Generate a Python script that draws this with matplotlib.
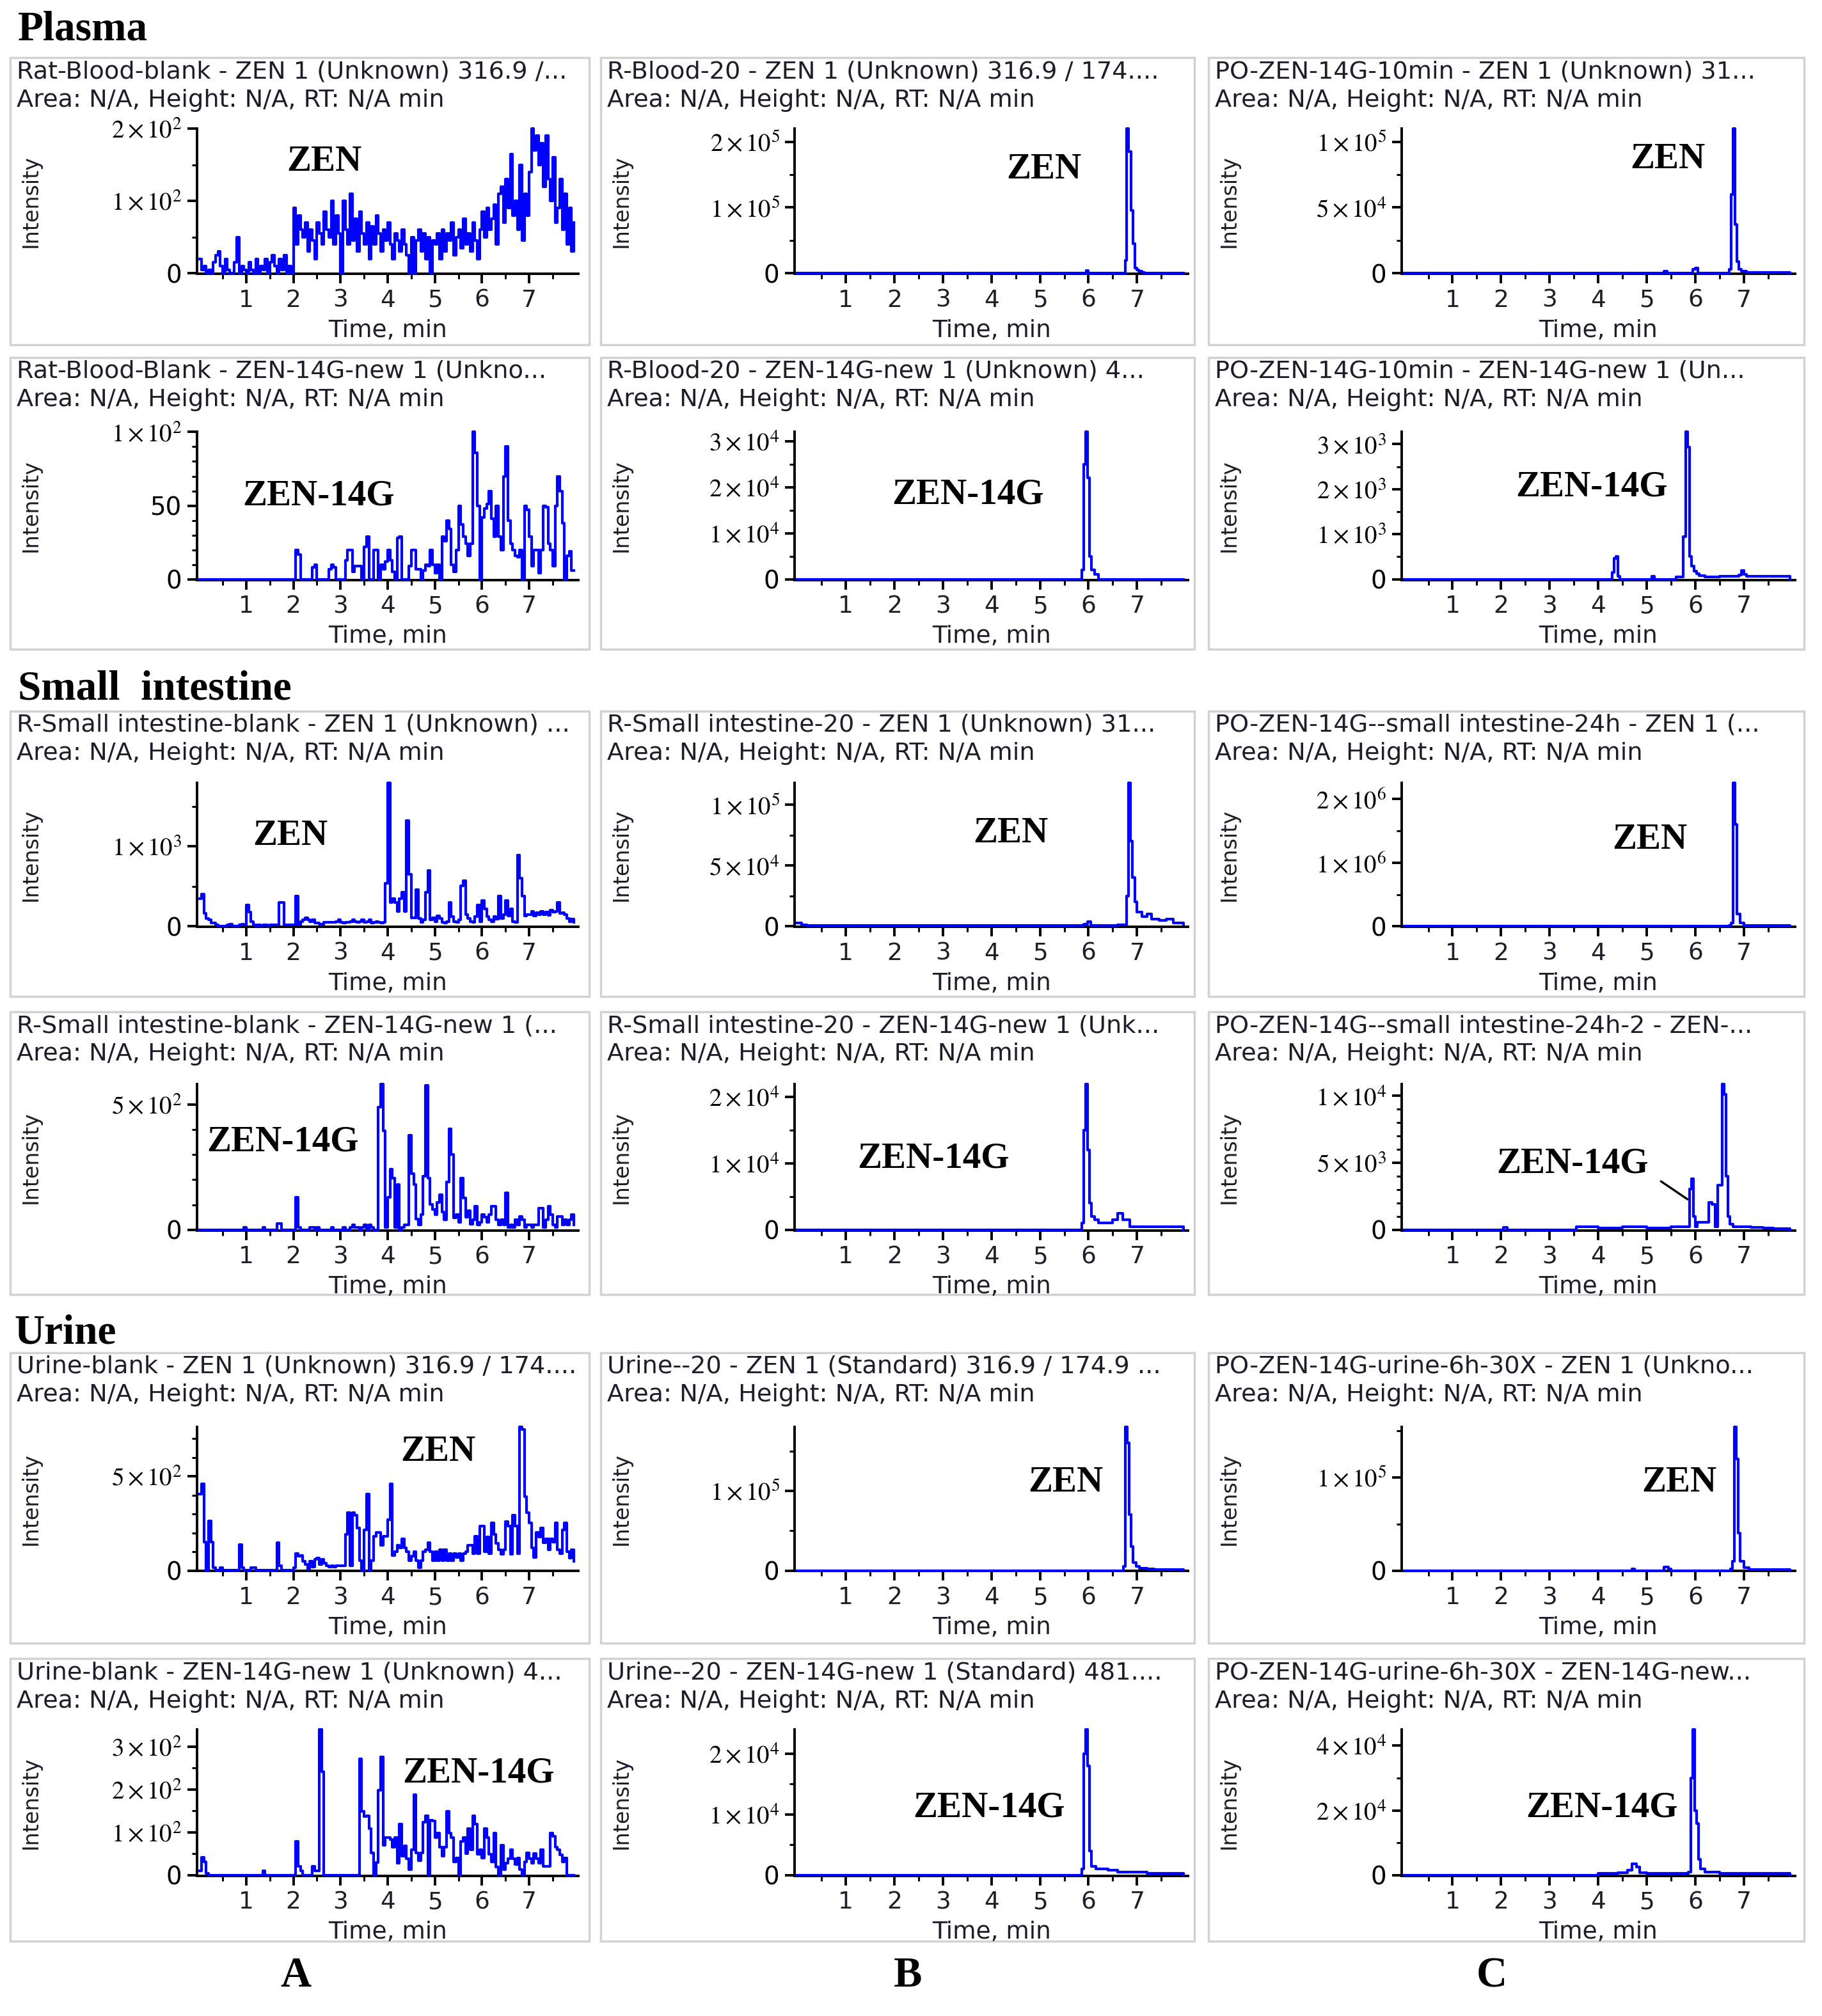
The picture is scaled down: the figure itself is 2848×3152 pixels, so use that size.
import numpy as np
import matplotlib.pyplot as plt
from matplotlib.patches import Rectangle
from matplotlib.ticker import FixedLocator, MultipleLocator

plt.rcParams['mathtext.fontset'] = 'stix'

# blank traces, one reading every 0.05 min starting at 0.00 min
step = 0.05

a1_plasma_zen = [20, 5, 10, 0, 5, 0, 15, 25, 30, 10, 0, 20, 5, 0, 0, 15, 50, 0, 10, 5,
                 0, 15, 5, 0, 20, 0, 10, 5, 20, 0, 15, 25, 10, 0, 20, 5, 25, 0, 10, 0,
                 90, 40, 80, 60, 50, 70, 30, 60, 45, 20, 70, 55, 40, 85, 60, 50, 100, 40, 80, 55,
                 0, 100, 60, 40, 110, 45, 75, 30, 85, 55, 40, 70, 20, 65, 40, 80, 55, 30, 60, 45,
                 70, 40, 20, 55, 45, 30, 60, 40, 25, 0, 50, 0, 45, 60, 30, 55, 20, 50, 0, 45,
                 40, 55, 20, 60, 30, 55, 45, 70, 25, 50, 60, 35, 75, 40, 55, 30, 70, 45, 20, 60,
                 85, 50, 90, 60, 75, 95, 40, 110, 120, 70, 130, 90, 165, 80, 100, 60, 150, 45, 110, 80,
                 140, 200, 170, 190, 150, 180, 120, 190, 130, 100, 160, 70, 90, 130, 60, 110, 40, 90, 30, 70]

a2_plasma_14g = [0] * 40 + [
                 0, 20, 17, 0, 0, 0, 0, 0, 8, 10, 0, 0, 0, 0, 0, 7, 10, 8, 0, 0,
                 0, 0, 13, 20, 20, 5, 9, 9, 9, 0, 22, 29, 0, 0, 20, 20, 0, 10, 7, 12,
                 20, 13, 5, 0, 28, 29, 0, 0, 0, 9, 20, 20, 7, 7, 0, 6, 10, 9, 20, 10,
                 4, 10, 0, 29, 26, 40, 34, 10, 5, 20, 50, 37, 29, 24, 16, 24, 100, 86, 50, 0,
                 42, 48, 51, 60, 41, 29, 50, 29, 20, 70, 90, 40, 24, 20, 16, 15, 20, 0, 50, 47,
                 29, 9, 20, 20, 4, 20, 50, 49, 24, 20, 9, 50, 70, 60, 38, 0, 16, 19, 6, 6]

a3_intestine_zen = [350, 400, 160, 100, 80, 40, 40, 20, 0, 0, 0, 0, 20, 30, 0, 0, 0, 20, 30, 20,
                    270, 180, 60, 20, 0, 20, 0, 20, 20, 0, 20, 20, 20, 20, 300, 300, 20, 20, 20, 20,
                    20, 380, 20, 60, 80, 110, 80, 60, 80, 40, 40, 30, 20, 50, 50, 50, 50, 50, 60, 80,
                    50, 40, 50, 50, 60, 80, 60, 50, 60, 80, 50, 60, 80, 40, 50, 60, 50, 40, 50, 540,
                    1790, 300, 350, 300, 190, 350, 430, 190, 1320, 650, 110, 110, 460, 100, 50, 80, 430, 700, 80, 110,
                    60, 130, 100, 50, 40, 60, 300, 120, 60, 50, 80, 510, 570, 150, 100, 60, 50, 120, 270, 60,
                    320, 220, 120, 80, 60, 120, 90, 380, 100, 150, 320, 130, 220, 60, 50, 890, 600, 380, 130, 150,
                    150, 190, 130, 170, 150, 190, 150, 180, 140, 200, 180, 190, 300, 160, 170, 150, 100, 60, 90, 50]

a4_intestine_14g = [0, 0, 0, 0, 0, 0, 0, 0, 0, 0, 0, 0, 0, 0, 0, 0, 0, 0, 0, 9,
                    0, 0, 0, 0, 0, 0, 0, 9, 0, 0, 0, 0, 0, 26, 26, 0, 0, 0, 0, 0,
                    0, 130, 9, 0, 0, 0, 0, 10, 10, 0, 10, 0, 0, 0, 0, 0, 10, 0, 0, 0,
                    0, 10, 0, 0, 10, 20, 10, 10, 0, 10, 20, 0, 20, 10, 0, 0, 490, 582, 394, 10,
                    130, 243, 207, 10, 180, 0, 10, 20, 20, 376, 225, 180, 44, 20, 62, 214, 575, 207, 101, 80,
                    60, 110, 141, 70, 40, 190, 403, 300, 48, 62, 30, 207, 128, 50, 75, 22, 40, 93, 20, 31,
                    62, 50, 31, 62, 94, 94, 40, 20, 40, 20, 147, 10, 20, 10, 40, 20, 53, 40, 10, 20,
                    20, 10, 20, 20, 86, 86, 10, 40, 94, 60, 20, 10, 53, 53, 20, 40, 20, 40, 62, 20]

a5_urine_zen = [404, 460, 150, 0, 263, 150, 15, 3, 3, 15, 3, 3, 3, 3, 3, 3, 3, 139, 15, 3,
                3, 3, 15, 15, 3, 3, 3, 3, 3, 3, 3, 3, 3, 148, 26, 3, 3, 3, 3, 3,
                15, 90, 77, 79, 48, 32, 9, 48, 20, 58, 68, 32, 58, 40, 26, 20, 26, 20, 26, 26,
                26, 26, 192, 306, 26, 306, 295, 226, 54, 0, 214, 404, 0, 54, 180, 203, 203, 133, 180, 180,
                271, 458, 79, 101, 135, 122, 167, 122, 101, 54, 77, 101, 54, 15, 54, 101, 110, 147, 99, 54,
                99, 54, 110, 54, 110, 54, 90, 54, 90, 70, 90, 54, 90, 100, 133, 133, 90, 180, 90, 235,
                235, 100, 178, 90, 252, 192, 144, 110, 85, 110, 261, 235, 85, 295, 235, 90, 760, 748, 393, 308,
                252, 122, 71, 201, 178, 226, 147, 167, 110, 167, 150, 252, 110, 90, 214, 252, 99, 65, 110, 50]

a6_urine_14g = [11, 41, 31, 5, 0, 0, 0, 0, 0, 0, 0, 0, 0, 0, 0, 0, 0, 0, 0, 0,
                0, 0, 0, 0, 0, 0, 0, 11, 0, 0, 0, 0, 0, 0, 0, 0, 0, 0, 0, 0,
                0, 79, 21, 11, 0, 0, 0, 0, 21, 11, 11, 340, 241, 0, 0, 0, 0, 0, 0, 0,
                0, 0, 0, 0, 0, 0, 0, 0, 271, 149, 137, 138, 109, 52, 0, 30, 198, 276, 70, 88,
                88, 83, 65, 88, 28, 119, 44, 69, 39, 13, 60, 188, 52, 34, 52, 123, 138, 0, 128, 126,
                88, 98, 65, 44, 65, 149, 98, 88, 31, 40, 0, 79, 88, 50, 109, 60, 138, 119, 49, 60,
                40, 109, 88, 49, 31, 99, 20, 0, 70, 13, 28, 39, 60, 39, 25, 40, 13, 0, 31, 52,
                39, 28, 51, 39, 28, 60, 21, 21, 21, 99, 91, 65, 60, 47, 31, 40, 0, 0, 0, 0]

# dosed samples: (time, intensity) pairs, value held until next time
b1_t = [0, 5.96, 6.0, 6.76, 6.79, 6.83, 6.87, 6.91, 6.95, 6.99, 7.03, 7.1, 7.15, 7.95]
b1_y = [0, 4e3, 0, 2e4, 2.2e5, 1.85e5, 9.6e4, 4.5e4, 8e3, 5e3, 3e3, 1e3, 0, 0]
b2_t = [0, 5.86, 5.9, 5.94, 5.98, 6.02, 6.06, 6.12, 6.2, 7.95]
b2_y = [0, 2e3, 2.5e4, 3.2e4, 2.2e4, 5e3, 2e3, 1e3, 0, 0]
b3_t = [0, 0.1, 0.2, 5.9, 5.98, 6.05, 6.6, 6.78, 6.82, 6.86, 6.9, 6.95, 7.0, 7.1, 7.2, 7.3, 7.45, 7.6, 7.75, 7.95]
b3_y = [3e3, 1.5e3, 1e3, 2e3, 4e3, 1e3, 1.5e3, 2.5e4, 1.18e5, 7e4, 4e4, 2e4, 1.2e4, 8e3, 1e4, 6e3, 5e3, 6e3, 3e3, 2e3]
b4_t = [0, 5.86, 5.9, 5.94, 5.98, 6.02, 6.06, 6.12, 6.2, 6.5, 6.6, 6.7, 6.85, 7.95]
b4_y = [0, 1e3, 1.5e4, 2.2e4, 1.2e4, 4e3, 2e3, 1.5e3, 1e3, 1.5e3, 2.5e3, 1.5e3, 500, 0]
b5_t = [0, 6.72, 6.76, 6.8, 6.84, 6.88, 6.92, 6.98, 7.05, 7.2, 7.35, 7.95]
b5_y = [0, 5e3, 1.8e5, 1.6e5, 7e4, 3e4, 1e4, 5e3, 3e3, 2e3, 1e3, 0]
b6_t = [0, 5.86, 5.9, 5.94, 5.98, 6.02, 6.06, 6.15, 6.4, 6.6, 6.8, 7.2, 7.95]
b6_y = [0, 1e3, 2e4, 2.4e4, 1.8e4, 4e3, 1.5e3, 1e3, 800, 500, 500, 300, 0]

c1_t = [0, 5.35, 5.42, 5.95, 6.0, 6.05, 6.7, 6.74, 6.78, 6.82, 6.86, 6.9, 6.95, 7.05, 7.95]
c1_y = [0, 1.5e3, 0, 3e3, 4e3, 0, 3e3, 6e4, 1.1e5, 3.7e4, 9e3, 3e3, 1.5e3, 500, 0]
c2_t = [0, 4.28, 4.32, 4.36, 4.4, 4.45, 5.1, 5.15, 5.6, 5.75, 5.8, 5.84, 5.88, 5.92, 5.97,
        6.02, 6.08, 6.2, 6.5, 6.9, 6.95, 7.0, 7.05, 7.4, 7.95]
c2_y = [0, 150, 460, 500, 60, 0, 60, 0, 50, 940, 3270, 2940, 500, 300, 180,
        130, 80, 50, 60, 90, 200, 110, 60, 60, 0]
c3_t = [0, 6.7, 6.74, 6.78, 6.82, 6.86, 6.92, 7.0, 7.95]
c3_y = [0, 1e4, 5e4, 2.25e6, 1.6e6, 2e5, 5e4, 1e4, 0]
c4_t = [0, 2.05, 2.12, 3.55, 4.0, 4.5, 5.0, 5.5, 5.88, 5.92, 5.96, 6.0, 6.04, 6.28, 6.34, 6.4,
        6.46, 6.55, 6.59, 6.63, 6.67, 6.71, 6.78, 6.95, 7.15, 7.4, 7.6, 7.95]
c4_y = [0, 200, 0, 250, 150, 250, 150, 250, 3050, 3800, 980, 240, 570, 2070, 1900, 240,
        3340, 10900, 10100, 4000, 980, 400, 250, 250, 200, 150, 100, 0]
c5_t = [0, 4.7, 4.75, 5.35, 5.45, 5.5, 6.72, 6.76, 6.8, 6.84, 6.88, 6.92, 7.0, 7.1, 7.95]
c5_y = [0, 2e3, 0, 4e3, 2e3, 0, 2e3, 1e4, 1.54e5, 1.2e5, 4e4, 1e4, 3e3, 1e3, 0]
c6_t = [0, 4.0, 4.4, 4.6, 4.7, 4.78, 4.85, 5.0, 5.5, 5.85, 5.9, 5.94, 5.98, 6.02, 6.06, 6.1, 6.2, 6.5, 7.95]
c6_y = [0, 500, 800, 1500, 3500, 2500, 800, 500, 500, 1000, 3e4, 4.5e4, 2e4, 1.6e4, 5e3, 2e3, 1e3, 500, 0]

area_line = 'Area: N/A, Height: N/A, RT: N/A min'

# (column, row, header, compound, label x, label y, trace, y major ticks, y minor step)
panels = [
    ('A', 0, 'Rat-Blood-blank - ZEN 1 (Unknown) 316.9 /...', 'ZEN', 252, 126, a1_plasma_zen, [0, 100, 200], 50),
    ('B', 0, 'R-Blood-20 - ZEN 1 (Unknown) 316.9 / 174....', 'ZEN', 812, 132, (b1_t, b1_y), [0, 1e5, 2e5], 5e4),
    ('C', 0, 'PO-ZEN-14G-10min - ZEN 1 (Unknown) 31...', 'ZEN', 1297, 124, (c1_t, c1_y), [0, 5e4, 1e5], 2.5e4),
    ('A', 1, 'Rat-Blood-Blank - ZEN-14G-new 1 (Unkno...', 'ZEN-14G', 248, 386, a2_plasma_14g, [0, 50, 100], 10),
    ('B', 1, 'R-Blood-20 - ZEN-14G-new 1 (Unknown) 4...', 'ZEN-14G', 753, 385, (b2_t, b2_y), [0, 1e4, 2e4, 3e4], 5e3),
    ('C', 1, 'PO-ZEN-14G-10min - ZEN-14G-new 1 (Un...', 'ZEN-14G', 1238, 379, (c2_t, c2_y), [0, 1e3, 2e3, 3e3], 500),
    ('A', 2, 'R-Small intestine-blank - ZEN 1 (Unknown) ...', 'ZEN', 226, 650, a3_intestine_zen, [0, 1e3], 500),
    ('B', 2, 'R-Small intestine-20 - ZEN 1 (Unknown) 31...', 'ZEN', 786, 648, (b3_t, b3_y), [0, 5e4, 1e5], 2.5e4),
    ('C', 2, 'PO-ZEN-14G--small intestine-24h - ZEN 1 (...', 'ZEN', 1283, 653, (c3_t, c3_y), [0, 1e6, 2e6], 5e5),
    ('A', 3, 'R-Small intestine-blank - ZEN-14G-new 1 (...', 'ZEN-14G', 220, 888, a4_intestine_14g, [0, 500], 100),
    ('B', 3, 'R-Small intestine-20 - ZEN-14G-new 1 (Unk...', 'ZEN-14G', 726, 901, (b4_t, b4_y), [0, 1e4, 2e4], 5e3),
    ('C', 3, 'PO-ZEN-14G--small intestine-24h-2 - ZEN-...', 'ZEN-14G', 1223, 905, (c4_t, c4_y), [0, 5e3, 1e4], 1e3),
    ('A', 4, 'Urine-blank - ZEN 1 (Unknown) 316.9 / 174....', 'ZEN', 341, 1129, a5_urine_zen, [0, 500], 100),
    ('B', 4, 'Urine--20 - ZEN 1 (Standard) 316.9 / 174.9 ...', 'ZEN', 829, 1153, (b5_t, b5_y), [0, 1e5], 5e4),
    ('C', 4, 'PO-ZEN-14G-urine-6h-30X - ZEN 1 (Unkno...', 'ZEN', 1306, 1153, (c5_t, c5_y), [0, 1e5], 5e4),
    ('A', 5, 'Urine-blank - ZEN-14G-new 1 (Unknown) 4...', 'ZEN-14G', 372, 1379, a6_urine_14g, [0, 100, 200, 300], 50),
    ('B', 5, 'Urine--20 - ZEN-14G-new 1 (Standard) 481....', 'ZEN-14G', 769, 1406, (b6_t, b6_y), [0, 1e4, 2e4], 5e3),
    ('C', 5, 'PO-ZEN-14G-urine-6h-30X - ZEN-14G-new...', 'ZEN-14G', 1246, 1406, (c6_t, c6_y), [0, 2e4, 4e4], 1e4),
]

sections = [('Plasma', 14, 23), ('Small  intestine', 14, 536), ('Urine', 11, 1037)]
column_letters = [('A', 230, 1537), ('B', 706, 1537), ('C', 1160, 1537)]

# layout measured on a 1417 x 1568 grid
W, H = 1417.0, 1568.0
cols = {'A': (8, 458, 153, 450), 'B': (467, 929, 618, 924), 'C': (940, 1403, 1090, 1396)}
rows = [(45, 268, 100, 213), (278, 505, 336, 451), (553, 775, 609, 721),
        (787, 1007, 843, 957), (1052, 1278, 1110, 1222), (1290, 1510, 1345, 1459)]


def fx(x):
    return x / W


def fy(y):
    return 1 - y / H


def fmt(v):
    if v == 0:
        return '0'
    if v < 100:
        return '%g' % v
    e = int(np.floor(np.log10(v) + 1e-9))
    m = int(round(v / 10 ** e))
    return r'$%d\times10^{%d}$' % (m, e)


sans = 'DejaVu Sans'
serif = 'Liberation Serif'
txt_col = '#1e1e2a'
blue = '#0000ff'

fig = plt.figure(figsize=(28.48, 31.52), dpi=100)

for col, row, header, compound, lx, ly, trace, yticks, yminor in panels:
    bx0, bx1, axl, axr = cols[col]
    by0, by1, axt, axz = rows[row]

    fig.patches.append(Rectangle((fx(bx0), fy(by1)), fx(bx1) - fx(bx0), (by1 - by0) / H,
                                 transform=fig.transFigure, facecolor='none',
                                 edgecolor='#d2d2d2', linewidth=2.5, zorder=-1))
    fig.text(fx(bx0 + 5), fy(by0 + 11), header, fontsize=27.5, family=sans,
             color=txt_col, ha='left', va='center')
    fig.text(fx(bx0 + 5), fy(by0 + 33), area_line, fontsize=27.5, family=sans,
             color=txt_col, ha='left', va='center')

    ax = fig.add_axes([fx(axl), fy(axz), fx(axr) - fx(axl), (axz - axt) / H])
    ax.patch.set_alpha(0)
    if isinstance(trace, tuple):
        t, y = trace
    else:
        y = trace
        t = np.arange(len(y)) * step
    top = max(y)
    ax.plot(t, y, color=blue, lw=3.0, drawstyle='steps-post', clip_on=False, zorder=5)

    ax.set_xlim(-0.05, 8.05)
    ax.set_ylim(-0.004 * top, top)
    for s in ['top', 'right']:
        ax.spines[s].set_visible(False)
    for s in ['left', 'bottom']:
        ax.spines[s].set_linewidth(2.8)
    ax.spines['left'].set_bounds(0, top)

    ax.xaxis.set_major_locator(FixedLocator([1, 2, 3, 4, 5, 6, 7]))
    ax.xaxis.set_minor_locator(FixedLocator([0.5, 1.5, 2.5, 3.5, 4.5, 5.5, 6.5, 7.5]))
    ax.set_xticklabels(['1', '2', '3', '4', '5', '6', '7'], fontsize=27, family=sans, color=txt_col)
    ax.yaxis.set_major_locator(FixedLocator(yticks))
    ax.yaxis.set_minor_locator(MultipleLocator(yminor))
    ax.set_yticklabels([fmt(v) for v in yticks], fontsize=28, color='black')
    ax.tick_params(which='major', direction='out', length=11, width=2.8, pad=6)
    ax.tick_params(which='minor', direction='out', length=6, width=2.2)

    fig.text(fx(bx0 + 16), fy((axt + axz) / 2), 'Intensity', rotation=90, fontsize=24,
             family=sans, color=txt_col, ha='center', va='center')
    fig.text(fx((axl + axr) / 2), fy(axz + 44), 'Time, min', fontsize=27, family=sans,
             color=txt_col, ha='center', va='center')
    fig.text(fx(lx), fy(ly), compound, fontsize=41, family=serif, fontweight='bold',
             ha='center', va='center')

    if col == 'C' and row == 3:
        ax.annotate('', xy=(5.87, 2200), xytext=(5.26, 3700),
                    arrowprops=dict(arrowstyle='-', color='black', lw=2.4))

for name, x, y in sections:
    fig.text(fx(x), fy(y), name, fontsize=47, family=serif, fontweight='bold',
             ha='left', va='center')
for name, x, y in column_letters:
    fig.text(fx(x), fy(y), name, fontsize=48, family=serif, fontweight='bold',
             ha='center', va='center')

fig.savefig('out.png', dpi=100, facecolor='white')
